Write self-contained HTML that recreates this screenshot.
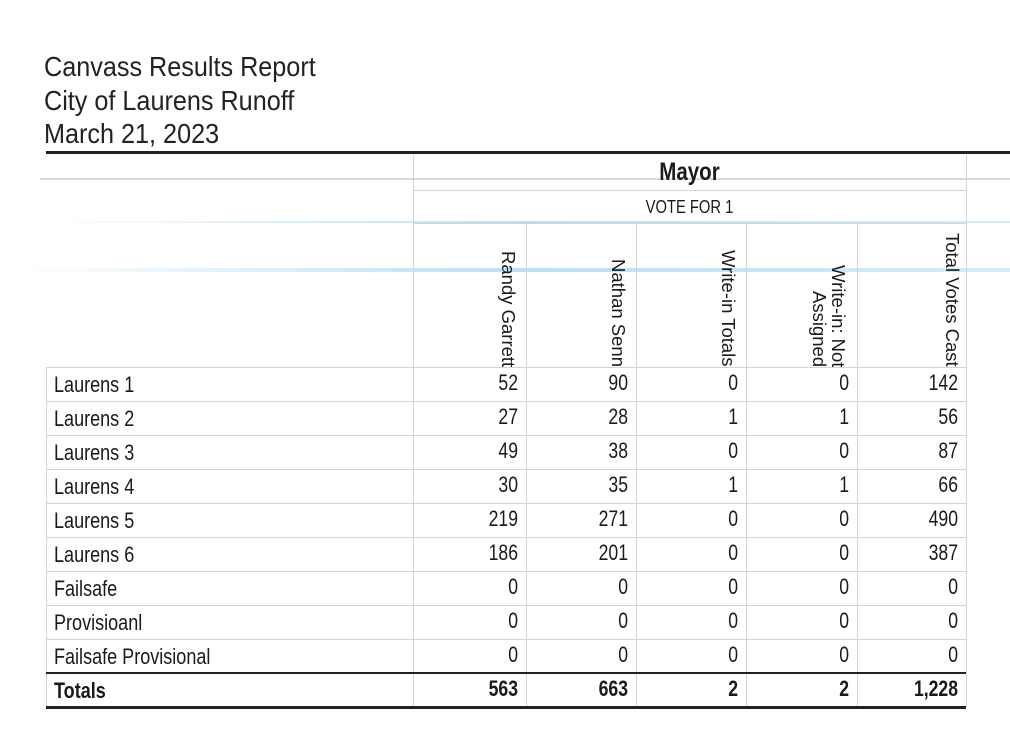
<!DOCTYPE html>
<html><head><meta charset="utf-8"><style>
body{margin:0;width:1010px;height:746px;background:#fff;position:relative;overflow:hidden;font-family:"Liberation Sans",sans-serif;color:#1a1a1a}
.a{position:absolute;white-space:nowrap}
.t{font-size:28px;transform:scaleX(.9);transform-origin:0 0;color:#222}
.hl{position:absolute;height:1px;background:#d4d4d4}
.vl{position:absolute;width:1px;background:#d4d4d4}
.lab{position:absolute;left:54px;font-size:22px;transform:scaleX(.82);transform-origin:0 0;white-space:nowrap}
.num{position:absolute;font-size:22px;transform:scaleX(.8);transform-origin:100% 0;text-align:right;white-space:nowrap}
.vh{position:absolute;writing-mode:vertical-rl;text-align:end;font-size:18.5px;line-height:19px;top:222px;height:145px}
.streak{position:absolute;height:3px;background:linear-gradient(90deg,rgba(120,190,230,0),rgba(120,190,230,.5),rgba(120,190,230,.3))}
</style></head><body>
<div class="a t" style="left:44px;top:51px">Canvass Results Report</div>
<div class="a t" style="left:44px;top:85px">City of Laurens Runoff</div>
<div class="a t" style="left:44px;top:118px">March 21, 2023</div>
<div style="position:absolute;left:46px;top:151px;width:964px;height:3px;background:#222"></div>

<div class="streak" style="left:40px;top:178px;width:970px;height:2px;background:rgba(150,150,160,.35)"></div>
<div class="streak" style="left:40px;top:221px;width:970px;height:2px"></div>
<div class="streak" style="left:20px;top:268px;width:990px;height:4px"></div>

<div class="vl" style="left:413px;top:155px;height:552px"></div>
<div class="vl" style="left:966px;top:155px;height:552px"></div>
<div class="hl" style="left:413px;top:190px;width:553px"></div>
<div class="hl" style="left:413px;top:223px;width:553px"></div>
<div class="vl" style="left:526px;top:223px;height:484px"></div>
<div class="vl" style="left:636px;top:223px;height:484px"></div>
<div class="vl" style="left:746px;top:223px;height:484px"></div>
<div class="vl" style="left:857px;top:223px;height:484px"></div>
<div class="vl" style="left:46px;top:367px;height:340px"></div>

<div class="a" style="left:413px;width:553px;top:158px;text-align:center;font-size:25px;font-weight:bold;transform:scaleX(.82)">Mayor</div>
<div class="a" style="left:413px;width:553px;top:197px;text-align:center;font-size:18px;transform:scaleX(.82)">VOTE FOR 1</div>

<div class="vh" style="left:497px;width:21px">Randy Garrett</div>
<div class="vh" style="left:607px;width:21px">Nathan Senn</div>
<div class="vh" style="left:717px;width:21px">Write-in Totals</div>
<div class="vh" style="left:808px;width:40px">Write-in: Not Assigned</div>
<div class="vh" style="left:941px;width:21px;top:222px;height:145px">Total Votes Cast</div>

<div id="rows"></div>
<script>
var d=[["Laurens 1",52,90,0,0,142],["Laurens 2",27,28,1,1,56],["Laurens 3",49,38,0,0,87],["Laurens 4",30,35,1,1,66],["Laurens 5",219,271,0,0,490],["Laurens 6",186,201,0,0,387],["Failsafe",0,0,0,0,0],["Provisioanl",0,0,0,0,0],["Failsafe Provisional",0,0,0,0,0],["Totals",563,663,2,2,"1,228"]];
var rights=[518,628,738,849,958],h="";
d.forEach(function(r,i){var y=367+i*34;
 if(i<9)h+='<div class="hl" style="left:46px;top:'+y+'px;width:920px"></div>';
 var b=i==9?'font-weight:bold;':'';
 h+='<div class="lab" style="top:'+(y+5)+'px;'+b+'">'+r[0]+'</div>';
 for(var j=1;j<6;j++)h+='<div class="num" style="left:'+(rights[j-1]-80)+'px;width:80px;top:'+(y+3)+'px;'+b+'">'+r[j]+'</div>';
});
h+='<div style="position:absolute;left:46px;top:672px;width:920px;height:2px;background:#222"></div>';
h+='<div style="position:absolute;left:46px;top:706px;width:920px;height:3px;background:#222"></div>';
document.getElementById("rows").innerHTML=h;
</script>
</body></html>
